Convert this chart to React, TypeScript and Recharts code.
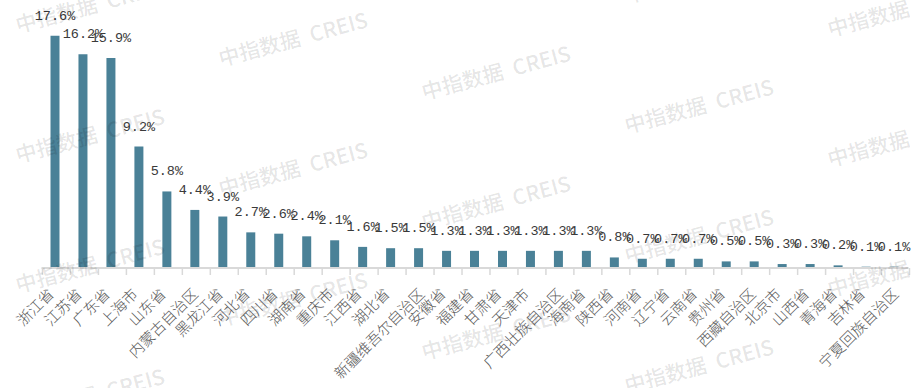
import React from 'react';
import { BarChart, Bar, XAxis, YAxis, LabelList } from 'recharts';

const categories = [
  '浙江省', '江苏省', '广东省', '上海市', '山东省', '内蒙古自治区', '黑龙江省', '河北省',
  '四川省', '湖南省', '重庆市', '江西省', '湖北省', '新疆维吾尔自治区', '安徽省', '福建省',
  '甘肃省', '天津市', '广西壮族自治区', '海南省', '陕西省', '河南省', '辽宁省', '云南省',
  '贵州省', '西藏自治区', '北京市', '山西省', '青海省', '吉林省', '宁夏回族自治区',
];

const shares = [
  17.6, 16.2, 15.9, 9.2, 5.8, 4.4, 3.9, 2.7,
  2.6, 2.4, 2.1, 1.6, 1.5, 1.5, 1.3, 1.3,
  1.3, 1.3, 1.3, 1.3, 0.8, 0.7, 0.7, 0.7,
  0.5, 0.5, 0.3, 0.3, 0.2, 0.1, 0.1,
];

const yDomain = [0, 20];

const watermarkText = ['中指数据', 'CREIS'];

const data = categories.map((name, i) => ({ name, value: shares[i] }));

const W = 917;
const H = 388;
const MARGIN = { top: 4, right: 8.5, left: 41.5, bottom: 0 };
const XAXIS_H = 120;
const AXIS_Y = H - MARGIN.bottom - XAXIS_H;
const PLOT_W = W - MARGIN.left - MARGIN.right;
const BAND = PLOT_W / categories.length;

const BAR_COLOR = '#4a8197';
const AXIS_COLOR = '#d9d9d9';

const CategoryTick = (props: any) => {
  const { x, payload, index } = props;
  const label: string = payload.value;
  const n = label.length;
  const shift = Math.max(0, n - 3) * 1.4;
  const ax = x - 0.5 + shift;
  const ay = AXIS_Y + 27;
  const left = x - BAND / 2 + 1;
  return (
    <g>
      <line x1={left} x2={left} y1={AXIS_Y} y2={AXIS_Y + 7} stroke={AXIS_COLOR} strokeWidth={1.5} />
      {index === categories.length - 1 && (
        <line x1={left + BAND} x2={left + BAND} y1={AXIS_Y} y2={AXIS_Y + 7} stroke={AXIS_COLOR} strokeWidth={1.5} />
      )}
      <text
        x={ax}
        y={ay}
        transform={`rotate(-45, ${ax}, ${ay})`}
        textAnchor="end"
        fontSize={15}
        fontWeight={300}
        fill="#595959"
        fontFamily="'Noto Sans CJK SC', sans-serif"
      >
        {label}
      </text>
    </g>
  );
};

const ValueLabel = (props: any) => {
  const { x, y, width, value } = props;
  return (
    <text
      x={Number(x) + Number(width) / 2}
      y={Number(y) - 16}
      textAnchor="middle"
      fontSize={13.5}
      fill="#3a3a3a"
      fontFamily="'Liberation Mono', monospace"
    >
      {Number(value).toFixed(1)}%
    </text>
  );
};

const Watermarks = () => {
  const items: { x: number; y: number }[] = [];
  for (let c = 0; c < 5; c++) {
    for (let r = -1; r < 4; r++) {
      const x = 18 + 203 * c;
      const y = 33 + 33.5 * c + 130 * r;
      if (y > -10 && y < H + 60) items.push({ x, y });
    }
  }
  return (
    <svg
      width={W}
      height={H}
      style={{ position: 'absolute', left: 0, top: 0, pointerEvents: 'none' }}
    >
      {items.map((p, i) => (
        <text
          key={i}
          x={p.x}
          y={p.y}
          transform={`rotate(-15, ${p.x}, ${p.y})`}
          fontSize={21}
          fontWeight={500}
          fill="#000"
          fillOpacity={0.11}
          fontFamily="'Noto Sans CJK SC', sans-serif"
        >
          <tspan>{watermarkText[0]}</tspan>
          <tspan dx={10}>{watermarkText[1]}</tspan>
        </text>
      ))}
    </svg>
  );
};

export default function App() {
  return (
    <div style={{ position: 'absolute', left: 0, top: 0, width: W, height: H, background: '#fff' }}>
      <BarChart width={W} height={H} data={data} margin={MARGIN} barCategoryGap={0}>
        <XAxis
          dataKey="name"
          interval={0}
          height={XAXIS_H}
          tickLine={false}
          axisLine={{ stroke: AXIS_COLOR, strokeWidth: 2 }}
          tick={<CategoryTick />}
        />
        <YAxis hide domain={yDomain} width={0} />
        <Bar dataKey="value" fill={BAR_COLOR} barSize={9} isAnimationActive={false}>
          <LabelList dataKey="value" content={<ValueLabel />} />
        </Bar>
      </BarChart>
      <Watermarks />
    </div>
  );
}
